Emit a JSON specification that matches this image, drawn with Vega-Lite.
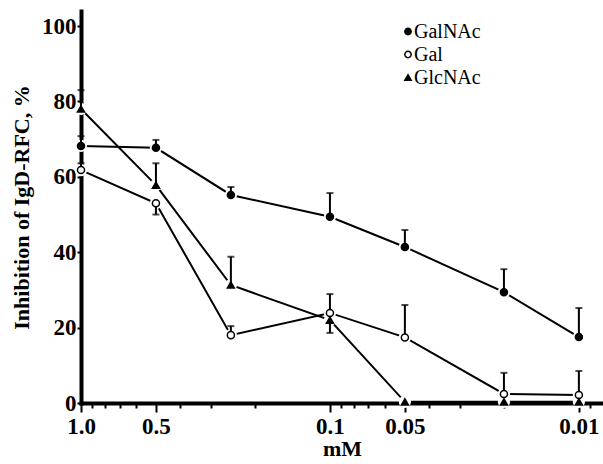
{
  "$schema": "https://vega.github.io/schema/vega-lite/v6.json",
  "width": 522,
  "height": 392,
  "autosize": "none",
  "padding": {"left": 81, "top": 11, "right": 0, "bottom": 61},
  "background": "white",
  "config": {
    "font": "Liberation Serif",
    "view": {"stroke": null},
    "axis": {
      "grid": false,
      "domainColor": "black",
      "domainWidth": 4,
      "domainCap": "square",
      "tickColor": "black",
      "tickWidth": 2,
      "labelColor": "black",
      "titleColor": "black",
      "zindex": 1
    }
  },
  "data": {
    "values": [
      {"s": "GalNAc", "mM": 1, "v": 68.2, "e": 70.8},
      {"s": "GalNAc", "mM": 0.5, "v": 67.7, "e": 69.8},
      {"s": "GalNAc", "mM": 0.25, "v": 55.2, "e": 57.3},
      {"s": "GalNAc", "mM": 0.1, "v": 49.4, "e": 55.7},
      {"s": "GalNAc", "mM": 0.05, "v": 41.4, "e": 45.9},
      {"s": "GalNAc", "mM": 0.02, "v": 29.4, "e": 35.5},
      {"s": "GalNAc", "mM": 0.01, "v": 17.5, "e": 25.2},
      {"s": "Gal", "mM": 1, "v": 61.8, "e": 63.6},
      {"s": "Gal", "mM": 0.5, "v": 53.0, "e": 50.0},
      {"s": "Gal", "mM": 0.25, "v": 18.0, "e": 20.4},
      {"s": "Gal", "mM": 0.1, "v": 23.9, "e": 28.9},
      {"s": "Gal", "mM": 0.05, "v": 17.4, "e": 26.0},
      {"s": "Gal", "mM": 0.02, "v": 2.4, "e": 8.0},
      {"s": "Gal", "mM": 0.01, "v": 2.1, "e": 8.5},
      {"s": "GlcNAc", "mM": 1, "v": 78.0, "e": 83.0},
      {"s": "GlcNAc", "mM": 0.5, "v": 57.8, "e": 63.6},
      {"s": "GlcNAc", "mM": 0.25, "v": 31.3, "e": 38.8},
      {"s": "GlcNAc", "mM": 0.1, "v": 22.0, "e": 18.6},
      {"s": "GlcNAc", "mM": 0.05, "v": 0.3},
      {"s": "GlcNAc", "mM": 0.02, "v": 0.3},
      {"s": "GlcNAc", "mM": 0.01, "v": 0.3}
    ]
  },
  "encoding": {
    "x": {
      "field": "mM",
      "type": "quantitative",
      "scale": {"type": "log", "domain": [0.008, 1], "reverse": true, "nice": false},
      "axis": {
        "title": "mM",
        "values": [1, 0.9, 0.8, 0.7, 0.6, 0.5, 0.4, 0.3, 0.2, 0.1, 0.09, 0.08, 0.07, 0.06, 0.05, 0.04, 0.03, 0.02, 0.01, 0.009],
        "labelExpr": "datum.value == 1 ? '1.0' : datum.value == 0.5 ? '0.5' : datum.value == 0.1 ? '0.1' : datum.value == 0.05 ? '0.05' : datum.value == 0.01 ? '0.01' : ''",
        "labelOverlap": false,
        "labelFlush": false,
        "labelPadding": 3,
        "titlePadding": 0,
        "labelFont": "Liberation Serif",
        "labelFontWeight": "bold",
        "labelFontSize": 23,
        "titleFont": "Liberation Serif",
        "titleFontWeight": "bold",
        "titleFontSize": 22,
        "tickSize": {"condition": {"test": "indexof([1,0.5,0.1,0.05,0.01], datum.value) >= 0", "value": 9}, "value": 5}
      }
    },
    "y": {
      "field": "v",
      "type": "quantitative",
      "scale": {"domain": [0, 104], "nice": false},
      "axis": {
        "title": "Inhibition of IgD-RFC, %",
        "values": [0, 20, 40, 60, 80, 100],
        "tickSize": 4,
        "labelPadding": 1,
        "titlePadding": 8,
        "labelFont": "Liberation Serif",
        "labelFontWeight": "bold",
        "labelFontSize": 23,
        "titleFont": "Liberation Serif",
        "titleFontWeight": "bold",
        "titleFontSize": 22
      }
    }
  },
  "layer": [
    {
      "mark": {"type": "line", "color": "black", "strokeWidth": 2},
      "encoding": {"detail": {"field": "s"}}
    },
    {
      "mark": {"type": "point", "shape": "circle", "filled": true, "color": "white", "opacity": 1, "size": 150}
    },
    {
      "transform": [{"filter": "isValid(datum.e)"}],
      "mark": {"type": "rule", "color": "black", "strokeWidth": 2},
      "encoding": {"y2": {"field": "e"}}
    },
    {
      "transform": [{"filter": "isValid(datum.e)"}],
      "mark": {"type": "tick", "orient": "horizontal", "color": "black", "size": 7, "thickness": 2},
      "encoding": {"y": {"field": "e", "type": "quantitative"}}
    },
    {
      "mark": {"type": "point", "stroke": "black", "strokeWidth": 1.5, "opacity": 1, "size": 50},
      "encoding": {
        "shape": {
          "field": "s",
          "type": "nominal",
          "scale": {"domain": ["GalNAc", "Gal", "GlcNAc"], "range": ["circle", "circle", "triangle-up"]},
          "legend": {
            "orient": "none",
            "legendX": 317,
            "legendY": 10.5,
            "title": null,
            "labelFont": "Liberation Serif",
            "labelFontSize": 20,
            "labelColor": "black",
            "symbolSize": 40,
            "rowPadding": 3,
            "labelOffset": -4,
            "encode": {"symbols": {"update": {"stroke": {"value": "black"}, "strokeWidth": {"value": 1}}}}
          }
        },
        "fill": {
          "field": "s",
          "type": "nominal",
          "scale": {"domain": ["GalNAc", "Gal", "GlcNAc"], "range": ["black", "white", "black"]}
        }
      }
    }
  ]
}
